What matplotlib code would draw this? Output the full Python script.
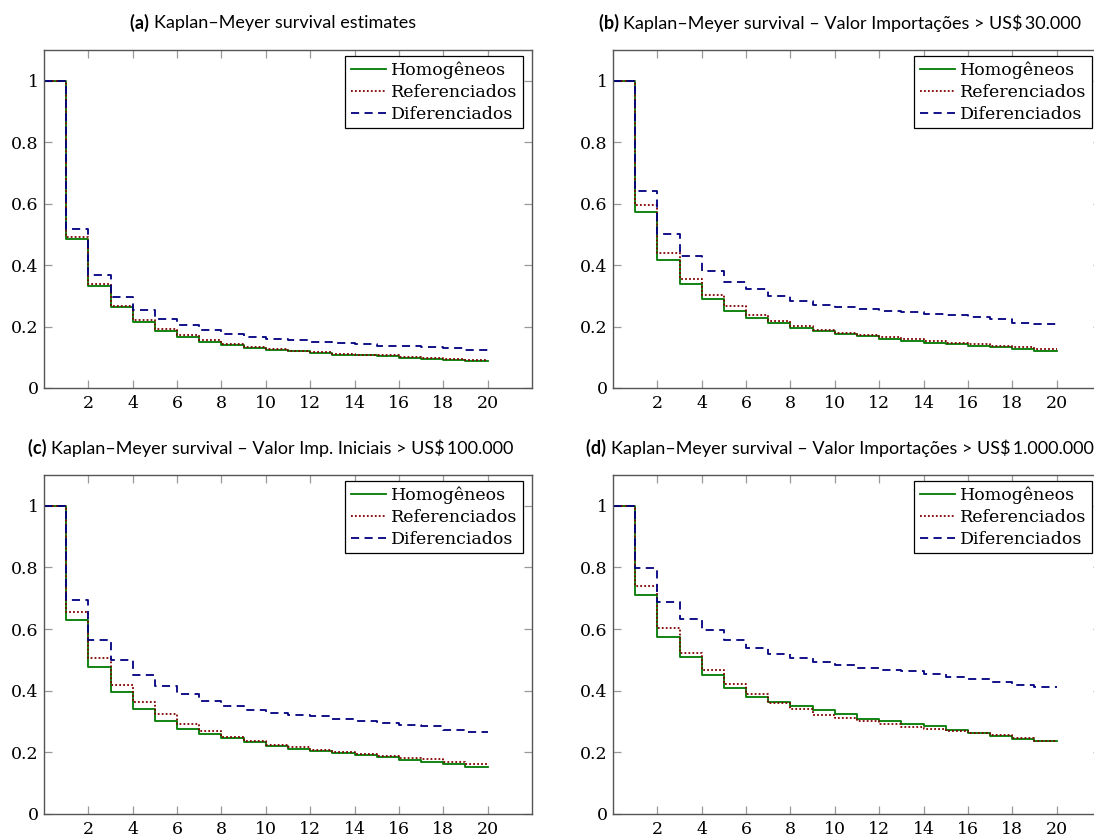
import matplotlib
matplotlib.use("Agg")
import matplotlib.pyplot as plt

# survival estimates, periods 0..20 (last step repeats to close the line at 20)
periods = list(range(21))
series_names = ["Homogêneos", "Referenciados", "Diferenciados"]

a_hom = [1.0, 0.484, 0.332, 0.262, 0.216, 0.186, 0.165, 0.151, 0.139, 0.131, 0.124,
         0.119, 0.114, 0.109, 0.106, 0.103, 0.098, 0.095, 0.092, 0.088, 0.088]
a_ref = [1.0, 0.491, 0.337, 0.267, 0.222, 0.191, 0.171, 0.156, 0.144, 0.134, 0.128,
         0.122, 0.117, 0.112, 0.109, 0.106, 0.102, 0.098, 0.094, 0.091, 0.091]
a_dif = [1.0, 0.518, 0.368, 0.297, 0.254, 0.226, 0.206, 0.188, 0.176, 0.165, 0.159,
         0.155, 0.151, 0.147, 0.143, 0.138, 0.136, 0.134, 0.129, 0.124, 0.124]

b_hom = [1.0, 0.572, 0.418, 0.339, 0.289, 0.252, 0.227, 0.211, 0.196, 0.185, 0.175,
         0.168, 0.161, 0.154, 0.148, 0.144, 0.137, 0.132, 0.126, 0.121, 0.121]
b_ref = [1.0, 0.596, 0.438, 0.356, 0.303, 0.267, 0.238, 0.218, 0.201, 0.188, 0.179,
         0.172, 0.165, 0.159, 0.152, 0.147, 0.142, 0.137, 0.132, 0.126, 0.126]
b_dif = [1.0, 0.641, 0.502, 0.429, 0.382, 0.346, 0.323, 0.301, 0.284, 0.270, 0.263,
         0.256, 0.251, 0.246, 0.242, 0.236, 0.230, 0.224, 0.213, 0.208, 0.208]

c_hom = [1.0, 0.629, 0.476, 0.397, 0.342, 0.303, 0.276, 0.258, 0.245, 0.234, 0.221,
         0.212, 0.204, 0.198, 0.191, 0.184, 0.176, 0.170, 0.161, 0.154, 0.154]
c_ref = [1.0, 0.656, 0.506, 0.419, 0.364, 0.323, 0.293, 0.268, 0.251, 0.237, 0.225,
         0.216, 0.209, 0.202, 0.196, 0.189, 0.183, 0.177, 0.170, 0.161, 0.161]
c_dif = [1.0, 0.695, 0.566, 0.499, 0.451, 0.415, 0.389, 0.366, 0.351, 0.337, 0.329,
         0.322, 0.317, 0.309, 0.303, 0.295, 0.290, 0.285, 0.271, 0.265, 0.265]

d_hom = [1.0, 0.711, 0.573, 0.509, 0.452, 0.410, 0.381, 0.362, 0.350, 0.336, 0.323,
         0.309, 0.301, 0.292, 0.284, 0.272, 0.263, 0.254, 0.244, 0.236, 0.236]
d_ref = [1.0, 0.739, 0.603, 0.521, 0.468, 0.422, 0.389, 0.360, 0.342, 0.322, 0.310,
         0.303, 0.291, 0.283, 0.277, 0.269, 0.264, 0.257, 0.245, 0.237, 0.237]
d_dif = [1.0, 0.797, 0.689, 0.632, 0.598, 0.565, 0.539, 0.518, 0.506, 0.492, 0.482,
         0.474, 0.468, 0.463, 0.454, 0.443, 0.438, 0.429, 0.419, 0.413, 0.413]

titles = [
    ("(a)", "Kaplan–Meyer survival estimates"),
    ("(b)", "Kaplan–Meyer survival – Valor Importações > US$\u200930.000"),
    ("(c)", "Kaplan–Meyer survival – Valor Imp. Iniciais > US$\u2009100.000"),
    ("(d)", "Kaplan–Meyer survival – Valor Importações > US$\u20091.000.000"),
]
panels = [(a_hom, a_ref, a_dif), (b_hom, b_ref, b_dif),
          (c_hom, c_ref, c_dif), (d_hom, d_ref, d_dif)]

xticks = list(range(2, 21, 2))
yticks = [0, 0.2, 0.4, 0.6, 0.8, 1.0]
ytick_labels = ["0", "0.2", "0.4", "0.6", "0.8", "1"]

colors = ["#007a00", "#800000", "#000080"]
styles = ["-", (0, (1, 1.2)), (0, (4.5, 3))]

W, H = 1094, 836
fig = plt.figure(figsize=(W / 100, H / 100), dpi=100)

# axes boxes in pixels (left, top, right, bottom); right column runs past the page edge
boxes = [(44, 50, 532, 388), (613, 50, 1101, 388),
         (44, 475, 532, 814), (613, 475, 1101, 814)]
title_pos = [(273, 23), (840, 23), (271, 448), (840, 448)]

serif = "DejaVu Serif"
sans = ["Lato", "DejaVu Sans"]
tsize = 13

for i, (box, vals) in enumerate(zip(boxes, panels)):
    l, t, r, b = box
    ax = fig.add_axes([l / W, 1 - b / H, (r - l) / W, (b - t) / H])
    for v, name, c, ls in zip(vals, series_names, colors, styles):
        ax.plot(periods, v, drawstyle="steps-post", color=c, linestyle=ls,
                lw=1.3, label=name)
    ax.set_xlim(0, 22)
    ax.set_ylim(0, 1.1)
    ax.set_xticks(xticks)
    ax.set_xticklabels([str(x) for x in xticks], fontfamily=serif, fontsize=12.5)
    ax.set_yticks(yticks)
    ax.set_yticklabels(ytick_labels, fontfamily=serif, fontsize=12.5)
    ax.tick_params(direction="in", length=6, width=0.9, color="#999999",
                   top=True, right=True, pad=4)
    ax.tick_params(axis="x", pad=5)
    for s in ax.spines.values():
        s.set_color("#555555")
        s.set_linewidth(1.0)
    leg = ax.legend(loc="upper right",
                    bbox_to_anchor=(1 - 9 / 488, 1 - 6 / (b - t)),
                    borderaxespad=0, fancybox=False, framealpha=1, edgecolor="black",
                    prop={"family": serif, "size": 12.5}, handlelength=2.05,
                    handletextpad=0.3, labelspacing=0.3, borderpad=0.3)
    leg.get_frame().set_linewidth(0.9)

    # title: bold tag followed by regular text, centred as one line
    tag, txt = titles[i]
    tx, ty = title_pos[i]
    tag_obj = fig.text(0, 1 - ty / H, tag + " ", family=sans, fontsize=tsize,
                       fontweight="bold", va="center", ha="left")
    t_obj = fig.text(0, 1 - ty / H, txt, family=sans, fontsize=tsize,
                     va="center", ha="left")
    fig.canvas.draw()
    tw = tag_obj.get_window_extent().width
    total = tw + t_obj.get_window_extent().width
    x0 = tx - total / 2
    tag_obj.set_x(x0 / W)
    t_obj.set_x((x0 + tw) / W)

fig.savefig("out.png", dpi=100)
